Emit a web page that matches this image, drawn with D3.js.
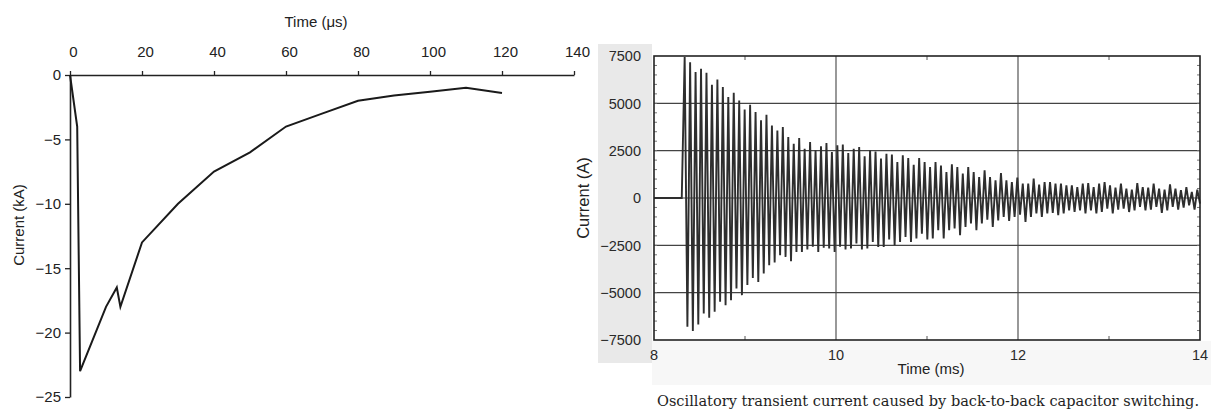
<!DOCTYPE html>
<html>
<head>
<meta charset="utf-8">
<script src="https://cdn.jsdelivr.net/npm/d3@7"></script>
<style>
  body { margin: 0; background: #fff; }
  svg { display: block; }
  .sans { font-family: "Liberation Sans", Arial, Helvetica, sans-serif; }
</style>
</head>
<body>
<svg id="chart" width="1211" height="410"></svg>
<script>
// left panel: current pulse
const pulseTime = [0, 2, 2.8, 10, 13, 14, 20, 30, 40, 50, 60, 70, 80, 90, 100, 110, 120];
const pulseCurrent = [0, -4, -23, -18, -16.5, -18, -13, -10, -7.5, -6, -4, -3, -2, -1.6, -1.3, -1, -1.4];
const pulseTimeTicks = [0, 20, 40, 60, 80, 100, 120, 140];
const pulseCurrentTicks = [0, -5, -10, -15, -20, -25];

// right panel: back-to-back capacitor switching
const onsetTime = [8, 8.305];
const onsetCurrent = [0, 0];
const swingStart = 8.337;
const swingEnd = 14.0;
const peakHigh = [
  7450, 7170, 6650, 6820, 6610, 5980, 6260, 5860, 5330, 5560, 5150, 4680, 4920, 4540, 4100, 4400,
  3830, 3570, 3750, 3220, 2870, 3170, 2600,
  2950, 2520, 2730, 2900, 2430, 2780, 2820, 2370, 2600, 2690, 2200, 2520, 2460, 2080, 2340, 2290,
  1900, 2250, 2110, 1760, 2110, 1900, 1640,
  1900, 1720, 1370, 1780, 1640, 1290, 1640, 1370, 1110, 1460, 1110, 930, 1320, 930, 840, 1080,
  760, 760, 1020, 710, 840, 840, 760, 760, 670,
  670, 580, 760, 790, 580, 760, 840, 670, 550, 760, 500, 440, 790, 580, 550, 760, 500, 440, 720,
  500, 410, 580, 320, 440
];
const peakLow = [
  -6800, -7030, -6680, -6100, -6330, -6010, -5480, -5660, -5400, -4780, -5130, -4600, -4220, -4430,
  -3990, -3550, -3410, -3020, -3110, -3340, -2850, -2850,
  -2720, -2580, -2850, -2620, -2670, -2850, -2580, -2720, -2670, -2400, -2720, -2670, -2320, -2580,
  -2580, -2190, -2490, -2320, -2060, -2320, -2140, -1880, -2190, -2140,
  -1700, -2140, -1700, -1610, -1970, -1530, -1350, -1700, -1350, -1140, -1530, -1180, -1000, -1210,
  -1000, -880, -1270, -1000, -820, -1000, -820, -790, -910, -820,
  -650, -740, -650, -820, -650, -820, -740, -560, -820, -610, -560, -740, -650, -470, -650, -610,
  -470, -790, -650, -470, -610, -510, -390, -610, -300
];
const switchTimeTicks = [8, 10, 12, 14];
const switchTimeGrid = [10, 12];
const switchTimeMinor = [9, 11, 13];
const switchCurrentTicks = [7500, 5000, 2500, 0, -2500, -5000, -7500];
const caption = 'Oscillatory transient current caused by back-to-back capacitor switching.';

const svg = d3.select('#chart');

// ---------- left panel ----------
const xL = d3.scaleLinear().domain([0, 140]).range([70, 574]);
const yL = d3.scaleLinear().domain([0, -25]).range([75, 397]);

const left = svg.append('g').attr('class', 'sans');

left.append('g')
  .attr('transform', `translate(0,${yL(0)})`)
  .call(d3.axisTop(xL).tickValues(pulseTimeTicks).tickSize(4).tickSizeOuter(0).tickPadding(14))
  .call(g => g.select('.domain').attr('stroke', '#222').attr('stroke-width', 1.6))
  .call(g => g.selectAll('.tick line').attr('stroke', '#222').attr('stroke-width', 1.3))
  .call(g => g.selectAll('.tick text').attr('dx', 3).attr('fill', '#222')
    .style('font-size', '15px').style('font-family', '"Liberation Sans", Arial, sans-serif'));

left.append('g')
  .attr('transform', `translate(${xL(0)},0)`)
  .call(d3.axisLeft(yL).tickValues(pulseCurrentTicks).tickSize(5).tickSizeOuter(0).tickPadding(4))
  .call(g => g.select('.domain').attr('stroke', '#222').attr('stroke-width', 1.6))
  .call(g => g.selectAll('.tick line').attr('stroke', '#222').attr('stroke-width', 1.3))
  .call(g => g.selectAll('.tick text').attr('fill', '#222')
    .style('font-size', '15px').style('font-family', '"Liberation Sans", Arial, sans-serif'));

left.append('text')
  .attr('x', 316).attr('y', 27)
  .attr('text-anchor', 'middle')
  .attr('fill', '#222')
  .style('font-size', '15px')
  .text('Time (μs)');

left.append('text')
  .attr('transform', 'translate(24,225) rotate(-90)')
  .attr('text-anchor', 'middle')
  .attr('fill', '#222')
  .style('font-size', '15px')
  .text('Current (kA)');

const pulseLine = d3.line()
  .x(i => xL(pulseTime[i]))
  .y(i => yL(pulseCurrent[i]));

left.append('path')
  .attr('d', pulseLine(d3.range(pulseTime.length)))
  .attr('fill', 'none')
  .attr('stroke', '#1a1a1a')
  .attr('stroke-width', 2)
  .attr('stroke-linejoin', 'miter');

// ---------- right panel ----------
const xR = d3.scaleLinear().domain([8, 14]).range([654, 1200]);
const yR = d3.scaleLinear().domain([-7500, 7500]).range([340, 56]);

const right = svg.append('g').attr('class', 'sans');

// scanned-page shading behind tick labels
right.append('rect')
  .attr('x', 598).attr('y', 44).attr('width', 54).attr('height', 319)
  .attr('fill', '#e9e9e9');
right.append('rect')
  .attr('x', 652).attr('y', 341).attr('width', 559).attr('height', 44)
  .attr('fill', '#f7f7f7');

// grid
right.append('g')
  .selectAll('line')
  .data(switchCurrentTicks.slice(1, -1))
  .join('line')
  .attr('x1', xR(8)).attr('x2', xR(14))
  .attr('y1', d => yR(d)).attr('y2', d => yR(d))
  .attr('stroke', '#444').attr('stroke-width', 1.1);

right.append('g')
  .selectAll('line')
  .data(switchTimeGrid)
  .join('line')
  .attr('x1', d => xR(d)).attr('x2', d => xR(d))
  .attr('y1', yR(7500)).attr('y2', yR(-7500))
  .attr('stroke', '#444').attr('stroke-width', 1.1);

// minor ticks
right.append('g')
  .selectAll('line')
  .data(switchTimeMinor.flatMap(t => [[t, 7500, 1], [t, -7500, -1]]))
  .join('line')
  .attr('x1', d => xR(d[0])).attr('x2', d => xR(d[0]))
  .attr('y1', d => yR(d[1])).attr('y2', d => yR(d[1]) + d[2] * 4)
  .attr('stroke', '#555');

right.append('g')
  .selectAll('line')
  .data(d3.range(-7000, 7500, 500).flatMap(v => [[8, v, 1], [14, v, -1]]))
  .join('line')
  .attr('x1', d => xR(d[0])).attr('x2', d => xR(d[0]) + d[2] * 3)
  .attr('y1', d => yR(d[1])).attr('y2', d => yR(d[1]))
  .attr('stroke', '#777');

// waveform
const wave = onsetTime.map((t, i) => [t, onsetCurrent[i]]);
const swingCount = peakHigh.length + peakLow.length;
const step = (swingEnd - swingStart) / (swingCount - 1);
peakHigh.forEach((v, i) => {
  wave.push([swingStart + 2 * i * step, v]);
  if (i < peakLow.length) wave.push([swingStart + (2 * i + 1) * step, peakLow[i]]);
});

right.append('path')
  .attr('d', d3.line().x(d => xR(d[0])).y(d => yR(d[1]))(wave))
  .attr('fill', 'none')
  .attr('stroke', '#2e2e2e')
  .attr('stroke-width', 1.9)
  .attr('stroke-linejoin', 'miter');

// frame
right.append('rect')
  .attr('x', xR(8)).attr('y', yR(7500))
  .attr('width', xR(14) - xR(8)).attr('height', yR(-7500) - yR(7500))
  .attr('fill', 'none')
  .attr('stroke', '#222').attr('stroke-width', 1.6);

// tick labels
right.append('g')
  .selectAll('text')
  .data(switchCurrentTicks)
  .join('text')
  .attr('x', 641)
  .attr('y', d => yR(d))
  .attr('dy', '0.36em')
  .attr('text-anchor', 'end')
  .attr('fill', '#2a2a2a')
  .style('font-size', '14.5px')
  .text(d => d3.format('d')(d));

right.append('g')
  .selectAll('text')
  .data(switchTimeTicks)
  .join('text')
  .attr('x', d => xR(d))
  .attr('y', 360)
  .attr('text-anchor', 'middle')
  .attr('fill', '#2a2a2a')
  .style('font-size', '14.5px')
  .text(d => d);

right.append('text')
  .attr('x', 931).attr('y', 374)
  .attr('text-anchor', 'middle')
  .attr('fill', '#222')
  .style('font-size', '15px')
  .text('Time (ms)');

right.append('text')
  .attr('transform', `translate(589,${yR(0)}) rotate(-90)`)
  .attr('text-anchor', 'middle')
  .attr('fill', '#222')
  .style('font-size', '16.5px')
  .text('Current (A)');

svg.append('text')
  .attr('x', 657).attr('y', 406)
  .attr('textLength', 542)
  .attr('lengthAdjust', 'spacingAndGlyphs')
  .attr('fill', '#1e1e1e')
  .style('font-family', '"DejaVu Serif", "Liberation Serif", serif')
  .style('font-size', '14px')
  .text(caption);
</script>
</body>
</html>
